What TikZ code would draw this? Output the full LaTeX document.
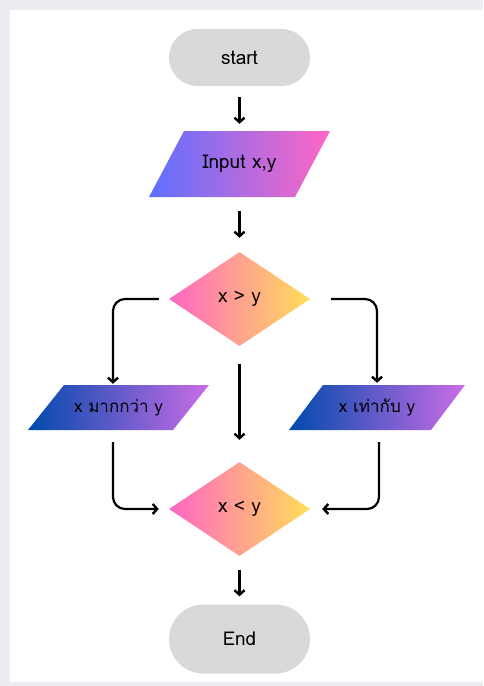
\documentclass[tikz,border=0pt]{standalone}
\usepackage{fontspec}
\newfontfamily\thaifont[Script=Thai]{Loma}
\usetikzlibrary{shapes.geometric,arrows.meta,calc}
\definecolor{pagebg}{HTML}{ECEDF1}
\definecolor{pill}{HTML}{D9D9D9}
\definecolor{gA}{HTML}{5E70FF}
\definecolor{gB}{HTML}{FF66C4}
\definecolor{gC}{HTML}{FFDE59}
\definecolor{gD}{HTML}{004AAD}
\definecolor{gE}{HTML}{CB6CE6}
\tikzset{
  every node/.style={font=\thaifont\fontsize{19}{21}\selectfont, text=black},
  thaitext/.style={font=\thaifont\fontsize{17}{19}\selectfont},
  pillbox/.style={rectangle, fill=pill, minimum width=141pt, inner sep=0pt},
  iobox/.style={rectangle, inner sep=0pt},
  decbox/.style={diamond, inner sep=0pt, minimum width=141pt, minimum height=94pt, left color=gB, right color=gC, draw=none},
  arr/.style={line width=2.2pt, -{Straight Barb[length=4.5pt,width=10pt,line width=2.4pt]}, rounded corners=12pt}
}
\begin{document}
\begin{tikzpicture}[x=1pt,y=-1pt]
\useasboundingbox (0,0) rectangle (483,686);
\fill[pagebg] (0,0) rectangle (483,686);
\fill[white] (10,10) rectangle (483,682);

% parallelogram backgrounds
\coordinate (inpc) at (239.5,164);
\coordinate (gtc) at (118.5,407.5);
\coordinate (eqc) at (377,407.5);
\path[left color=gA, right color=gB] ($(inpc)+(-90.5,33)$) -- ($(inpc)+(-55.5,-33)$) -- ($(inpc)+(90.5,-33)$) -- ($(inpc)+(55.5,33)$) -- cycle;
\path[left color=gD, right color=gE] ($(gtc)+(-90.5,22.5)$) -- ($(gtc)+(-54.5,-22.5)$) -- ($(gtc)+(90.5,-22.5)$) -- ($(gtc)+(54.5,22.5)$) -- cycle;
\path[left color=gD, right color=gE] ($(eqc)+(-88,22.5)$) -- ($(eqc)+(-54,-22.5)$) -- ($(eqc)+(88,-22.5)$) -- ($(eqc)+(54,22.5)$) -- cycle;

\node[pillbox, minimum height=57pt, rounded corners=28.5pt] (start) at (239.5,57.5) {start};
\node[iobox, minimum width=146pt, minimum height=66pt] (inp) at (inpc) {Input x,y};
\node[decbox] (d1) at (239.5,299) {x > y};
\node[iobox, thaitext, minimum width=145pt, minimum height=45pt] (gt) at (gtc) {x มากกว่า y};
\node[iobox, thaitext, minimum width=142pt, minimum height=45pt] (eq) at (eqc) {x เท่ากับ y};
\node[decbox] (d2) at (239.5,509) {x < y};
\node[pillbox, minimum height=69pt, rounded corners=34.5pt] (end) at (239.5,639) {End};

\draw[arr] ([yshift=-11pt]start.south) -- ([yshift=7pt]inp.north);
\draw[arr] ([yshift=-14pt]inp.south) -- ([yshift=14pt]d1.north);
\draw[arr] ([xshift=-10pt]d1.west) -| ([xshift=-5.5pt,yshift=1pt]gt.north);
\draw[arr] ([xshift=21pt]d1.east) -| ([yshift=2pt]eq.north);
\draw[arr] ([yshift=-18pt]d1.south) -- ([yshift=22pt]d2.north);
\draw[arr] ([xshift=-5.5pt,yshift=-12pt]gt.south) |- ([xshift=-10pt]d2.west);
\draw[arr] ([xshift=2pt,yshift=-12pt]eq.south) |- ([xshift=12pt]d2.east);
\draw[arr] ([yshift=-14pt]d2.south) -- ([yshift=8pt]end.north);
\end{tikzpicture}
\end{document}
